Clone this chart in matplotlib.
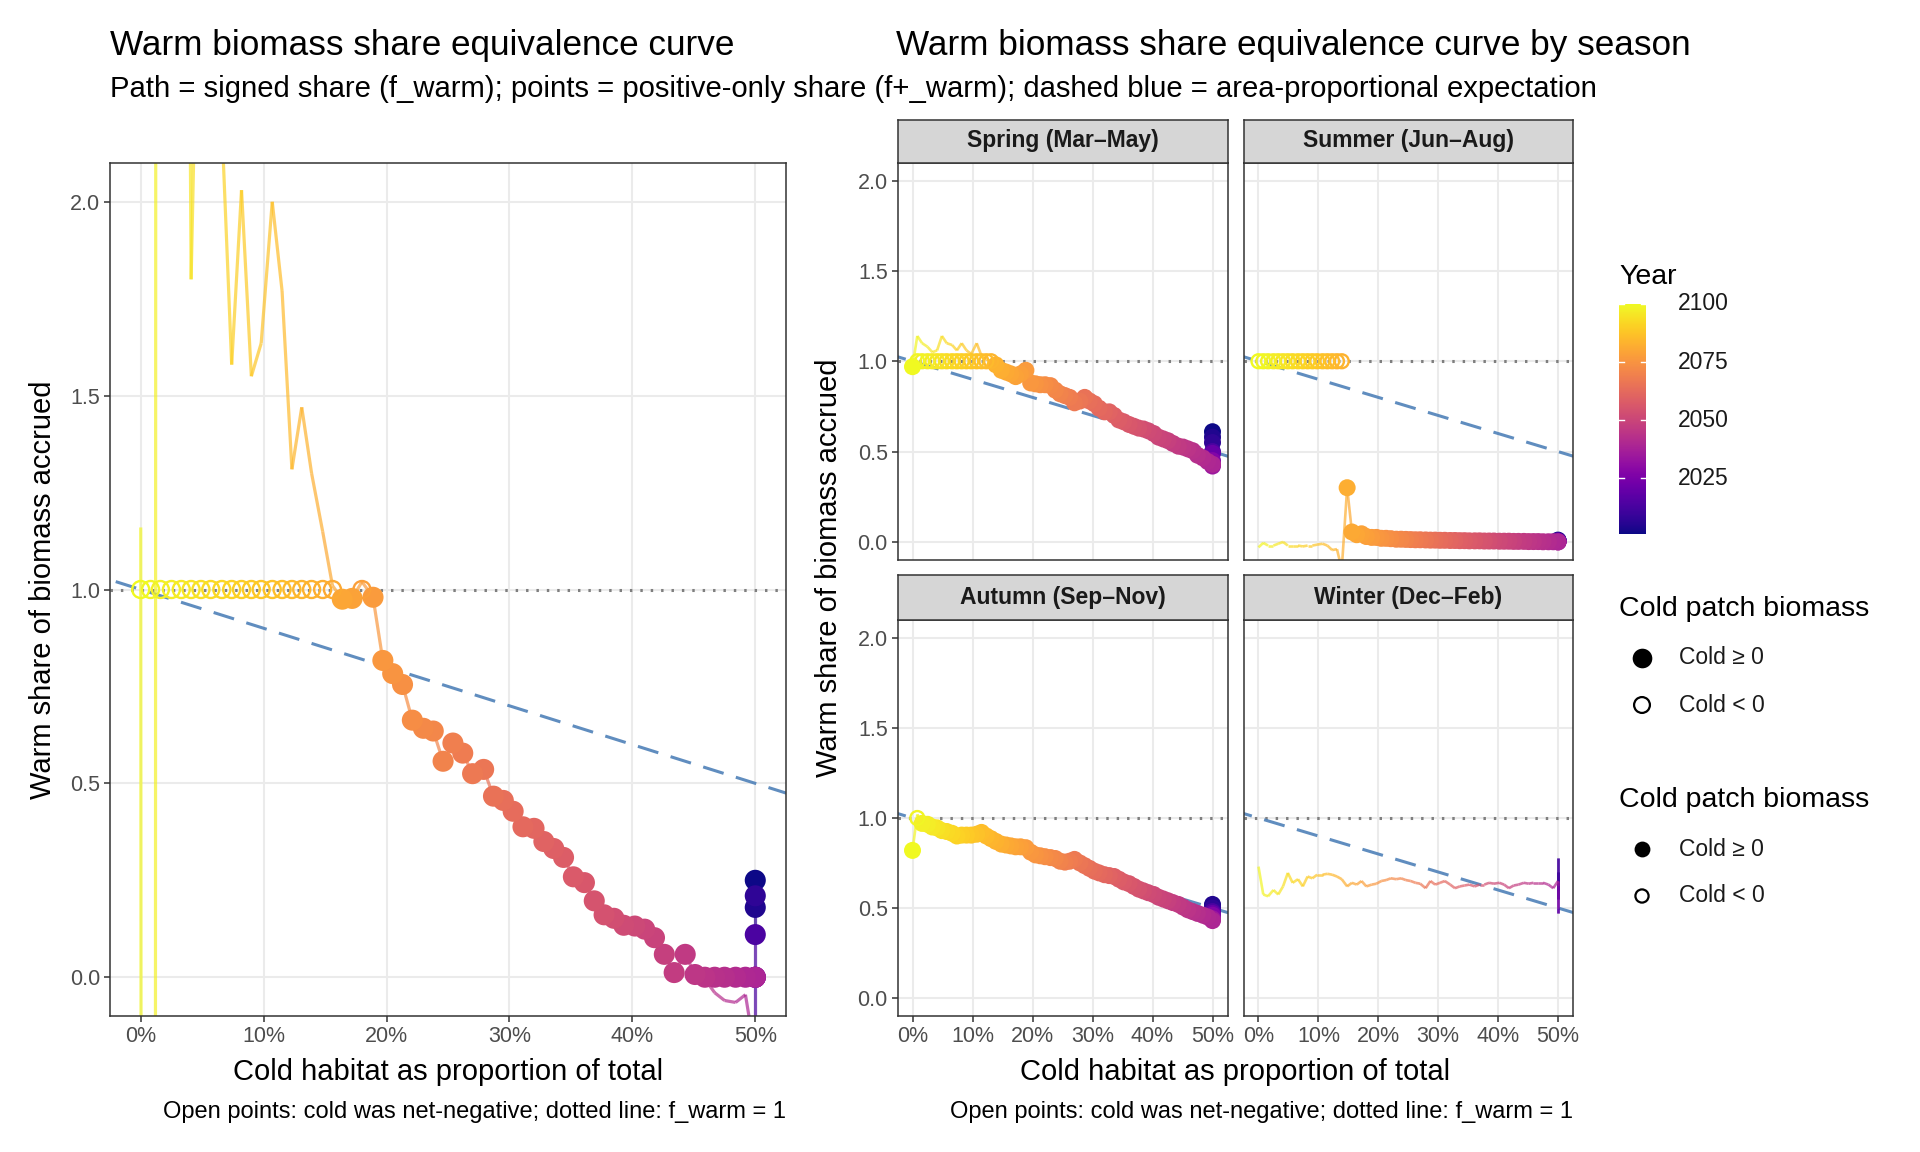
import numpy as np
import matplotlib.pyplot as plt
from matplotlib.collections import LineCollection
from matplotlib.colors import Normalize

plt.rcParams['font.family'] = ['Liberation Sans', 'DejaVu Sans']

# cold habitat share (%) for years 2100 down to 2039, then the early years sit at 50%
cold_pct = [0.0, 0.8, 1.6, 2.5, 3.3, 4.1, 4.9, 5.7, 6.6, 7.4,
            8.2, 9.0, 9.8, 10.7, 11.5, 12.3, 13.1, 13.9, 14.8, 15.6,
            16.4, 17.2, 18.0, 18.9, 19.7, 20.5, 21.3, 22.1, 23.0, 23.8,
            24.6, 25.4, 26.2, 27.0, 27.9, 28.7, 29.5, 30.3, 31.1, 32.0,
            32.8, 33.6, 34.4, 35.2, 36.1, 36.9, 37.7, 38.5, 39.3, 40.2,
            41.0, 41.8, 42.6, 43.4, 44.3, 45.1, 45.9, 46.7, 47.5, 48.4,
            49.2, 50.0]
years_main = list(range(2100, 2038, -1))
early_years = [2034, 2027, 2020, 2013, 2007, 2004, 2001]
early_pct = [50.0] * len(early_years)

# signed warm share (path); open = years where cold biomass was negative
annual_signed = [1.16, -40.0, 40.0, 5.0, 6.0, 1.80, 3.0, 2.6, 2.2, 1.58,
                 2.03, 1.55, 1.635, 2.0, 1.77, 1.31, 1.47, 1.30, 1.15, 1.01,
                 0.975, 0.977, 1.02, 0.98, 0.817, 0.783, 0.755, 0.663, 0.642, 0.635,
                 0.557, 0.604, 0.578, 0.525, 0.536, 0.467, 0.456, 0.428, 0.388, 0.384,
                 0.350, 0.332, 0.309, 0.259, 0.244, 0.197, 0.161, 0.152, 0.134, 0.132,
                 0.124, 0.102, 0.059, 0.012, 0.059, 0.007, -0.005, -0.04, -0.06, -0.065,
                 -0.045, -0.2]
annual_early = [-0.6, -0.4, -0.3, 0.11, 0.21, 0.18, 0.25]
annual_open = list(range(0, 20)) + [22]

spring_signed = [0.97, 1.14, 1.10, 1.08, 1.05, 1.06, 1.14, 1.10, 1.09, 1.06,
                 1.10, 1.06, 1.04, 1.10, 1.03, 1.01, 1.00, 0.98, 0.95, 0.94,
                 0.93, 0.915, 0.93, 0.95, 0.88, 0.875, 0.87, 0.87, 0.865, 0.84,
                 0.82, 0.81, 0.80, 0.77, 0.78, 0.80, 0.78, 0.765, 0.74, 0.72,
                 0.72, 0.70, 0.675, 0.665, 0.65, 0.64, 0.63, 0.625, 0.615, 0.60,
                 0.58, 0.57, 0.56, 0.545, 0.53, 0.525, 0.515, 0.505, 0.48, 0.465,
                 0.445, 0.43]
spring_early = [0.42, 0.45, 0.49, 0.50, 0.55, 0.58, 0.61]
spring_open = list(range(1, 17))

summer_signed = [-0.03, -0.005, -0.02, -0.02, -0.01, 0.0, -0.02, -0.02, -0.02, -0.025,
                 -0.02, -0.02, -0.015, -0.01, -0.02, -0.045, -0.04, -0.15, 0.30, 0.055,
                 0.04, 0.045, 0.03, 0.025, 0.025, 0.02, 0.02, 0.018, 0.015, 0.015,
                 0.014, 0.013, 0.012, 0.012, 0.011, 0.010, 0.010, 0.009, 0.009, 0.008,
                 0.008, 0.007, 0.007, 0.006, 0.006, 0.006, 0.005, 0.005, 0.005, 0.004,
                 0.004, 0.004, 0.003, 0.003, 0.003, 0.002, 0.002, 0.002, 0.001, 0.001,
                 0.001, 0.0]
summer_early = [0.0, 0.002, 0.004, 0.005, 0.006, 0.008, 0.01]
summer_open = list(range(0, 18))

autumn_signed = [0.82, 1.02, 0.97, 0.965, 0.95, 0.945, 0.93, 0.925, 0.915, 0.90,
                 0.905, 0.905, 0.905, 0.91, 0.92, 0.90, 0.885, 0.87, 0.855, 0.85,
                 0.845, 0.84, 0.84, 0.835, 0.81, 0.795, 0.79, 0.785, 0.78, 0.775,
                 0.76, 0.755, 0.76, 0.77, 0.75, 0.735, 0.72, 0.705, 0.695, 0.685,
                 0.68, 0.675, 0.66, 0.645, 0.635, 0.62, 0.605, 0.595, 0.585, 0.575,
                 0.56, 0.55, 0.54, 0.53, 0.52, 0.505, 0.49, 0.48, 0.47, 0.46,
                 0.45, 0.43]
autumn_early = [0.44, 0.46, 0.47, 0.48, 0.50, 0.52, 0.51]
autumn_open = [1]

winter_signed = [0.73, 0.575, 0.565, 0.60, 0.575, 0.62, 0.695, 0.64, 0.66, 0.62,
                 0.675, 0.665, 0.685, 0.685, 0.69, 0.685, 0.675, 0.66, 0.62, 0.64,
                 0.63, 0.65, 0.62, 0.63, 0.635, 0.65, 0.655, 0.665, 0.66, 0.665,
                 0.655, 0.65, 0.64, 0.635, 0.61, 0.65, 0.63, 0.64, 0.65, 0.63,
                 0.61, 0.62, 0.625, 0.63, 0.62, 0.63, 0.63, 0.64, 0.635, 0.64,
                 0.63, 0.61, 0.625, 0.63, 0.64, 0.635, 0.64, 0.64, 0.64, 0.63,
                 0.61, 0.65]
winter_early = [0.62, 0.50, 0.47, 0.78, 0.55, 0.70, 0.60]
winter_open = None  # no points drawn for winter

season_names = ['Spring (Mar–May)', 'Summer (Jun–Aug)', 'Autumn (Sep–Nov)', 'Winter (Dec–Feb)']

cmap = plt.get_cmap('plasma')
norm = Normalize(2001, 2100)
W, H = 1920, 1152
TICK = 15.5
SMALL = 16.5
AXT = 21


def draw_curve(ax, signed, early, open_idx, pt_big, pt_open, lw):
    x = np.array(cold_pct + early_pct)
    yr = np.array(years_main + early_years)
    y = np.array(signed + early, dtype=float)
    n = len(cold_pct)
    order = np.argsort(yr)
    x, yr, y = x[order], yr[order], y[order]

    # reference lines
    ax.axhline(1.0, color='#7f7f7f', lw=2.2, ls=(0, (0.8, 2.6)), zorder=1)
    ax.plot([-10, 60], [1.1, 0.4], color='#4f81b8', lw=2.2, ls=(0, (7, 4.2)),
            alpha=0.9, zorder=1)

    seg = np.stack([np.column_stack([x[:-1], y[:-1]]),
                    np.column_stack([x[1:], y[1:]])], axis=1)
    lc = LineCollection(seg, colors=cmap(norm(yr[:-1])), linewidths=lw, alpha=0.7,
                        zorder=2, capstyle='butt')
    ax.add_collection(lc)

    if open_idx is None:
        return
    is_open = np.zeros(n + len(early), dtype=bool)
    is_open[open_idx] = True
    is_open = is_open[order]
    pos = np.where(is_open, 1.0, np.clip(y, 0, None))
    cols = cmap(norm(yr))
    face = cols.copy()
    face[is_open, 3] = 0.0
    sizes = np.where(is_open, pt_open, pt_big)
    lws = np.where(is_open, 1.7, 0.0)
    ax.scatter(x, pos, s=sizes, facecolors=face, edgecolors=cols, linewidths=lws, zorder=3)


def style_axes(ax, show_x=True, show_y=True):
    ax.set_xlim(-2.5, 52.5)
    ax.set_ylim(-0.1, 2.1)
    ax.set_xticks([0, 10, 20, 30, 40, 50])
    ax.set_yticks([0, 0.5, 1.0, 1.5, 2.0])
    ax.grid(True, color='#ebebeb', lw=1.5, zorder=0)
    ax.set_axisbelow(True)
    for s in ax.spines.values():
        s.set_color('#333333')
        s.set_linewidth(1.1)
    ax.tick_params(colors='#333333', length=4, width=1.1, labelcolor='#4d4d4d',
                   labelsize=TICK, pad=3)
    if show_x:
        ax.set_xticklabels(['0%', '10%', '20%', '30%', '40%', '50%'])
    else:
        ax.tick_params(axis='x', length=0, labelbottom=False)
    if show_y:
        ax.set_yticklabels(['0.0', '0.5', '1.0', '1.5', '2.0'])
    else:
        ax.tick_params(axis='y', length=0, labelleft=False)


def fig_rect(x0, y0, x1, y1):
    return [x0 / W, 1 - y1 / H, (x1 - x0) / W, (y1 - y0) / H]


fig = plt.figure(figsize=(19.2, 11.52), dpi=100)

# left: annual curve
ax = fig.add_axes(fig_rect(110, 163, 786, 1016))
style_axes(ax)
draw_curve(ax, annual_signed, annual_early, annual_open, 230, 150, 2.3)

# right: seasonal facets
season_data = [(spring_signed, spring_early, spring_open),
               (summer_signed, summer_early, summer_open),
               (autumn_signed, autumn_early, autumn_open),
               (winter_signed, winter_early, winter_open)]
col_x = [(897.5, 1227.5), (1243.5, 1573)]
row_y = [(119.5, 162.5, 560), (575, 620, 1016)]
for i, (name, (sig, early, op)) in enumerate(zip(season_names, season_data)):
    r, c = divmod(i, 2)
    x0, x1 = col_x[c]
    s0, p0, p1 = row_y[r]
    fax = fig.add_axes(fig_rect(x0, p0, x1, p1))
    style_axes(fax, show_x=(r == 1), show_y=(c == 0))
    draw_curve(fax, sig, early, op, 150, 100, 1.9)
    sax = fig.add_axes(fig_rect(x0, s0, x1, p0))
    sax.set_facecolor('#d6d6d6')
    sax.set_xticks([])
    sax.set_yticks([])
    for s in sax.spines.values():
        s.set_color('#333333')
        s.set_linewidth(1.1)
    sax.text(0.5, 0.5, name, ha='center', va='center', fontsize=SMALL,
             fontweight='bold', color='#1a1a1a', transform=sax.transAxes)

# overlay in pixel coordinates for titles, labels and legends
ov = fig.add_axes([0, 0, 1, 1])
ov.set_xlim(0, W)
ov.set_ylim(H, 0)
ov.axis('off')
ov.patch.set_alpha(0)

ov.text(110, 46, 'Warm biomass share equivalence curve', fontsize=25.3, va='center', ha='left')
ov.text(896, 46, 'Warm biomass share equivalence curve by season', fontsize=25.3,
        va='center', ha='left')
ov.text(110, 89, 'Path = signed share (f_warm); points = positive-only share (f+_warm); '
        'dashed blue = area-proportional expectation', fontsize=21.1, va='center', ha='left')

ov.text(448, 1072, 'Cold habitat as proportion of total', fontsize=AXT, ha='center', va='center')
ov.text(1235, 1072, 'Cold habitat as proportion of total', fontsize=AXT, ha='center', va='center')
ov.text(43, 590, 'Warm share of biomass accrued', fontsize=AXT, ha='center', va='center',
        rotation=90)
ov.text(829, 568, 'Warm share of biomass accrued', fontsize=AXT, ha='center', va='center',
        rotation=90)
cap = 'Open points: cold was net-negative; dotted line: f_warm = 1'
ov.text(786, 1112, cap, fontsize=17, ha='right', va='center')
ov.text(1573, 1112, cap, fontsize=17, ha='right', va='center')

# colourbar legend
ov.text(1619, 277, 'Year', fontsize=20.5, ha='left', va='center')
cax = fig.add_axes(fig_rect(1619, 304, 1646, 534))
grad = np.linspace(2001, 2100, 300).reshape(-1, 1)
cax.imshow(grad, cmap=cmap, norm=norm, aspect='auto', origin='lower',
           extent=[0, 1, 2001, 2100])
cax.set_xlim(0, 1)
cax.set_ylim(2001, 2100)
cax.axis('off')
for t in [2025, 2050, 2075, 2100]:
    cax.plot([0, 0.2], [t, t], color='white', lw=1.0)
    cax.plot([0.8, 1], [t, t], color='white', lw=1.0)
    yp = 534 - (t - 2001) / 99 * (534 - 304)
    ov.text(1678, yp, str(t), fontsize=SMALL, ha='left', va='center', color='#1a1a1a')

# shape legends (one per panel)
for ty, (f_s, o_s) in [(609, (200, 130)), (800, (130, 90))]:
    ov.text(1619, ty, 'Cold patch biomass', fontsize=20.5, ha='left', va='center')
    ov.scatter([1642], [ty + 49], s=f_s, color='black', linewidths=0)
    ov.scatter([1642], [ty + 96], s=o_s, facecolors='none', edgecolors='black', linewidths=1.6)
    ov.text(1679, ty + 49, 'Cold ≥ 0', fontsize=SMALL, ha='left', va='center', color='#1a1a1a')
    ov.text(1679, ty + 96, 'Cold < 0', fontsize=SMALL, ha='left', va='center', color='#1a1a1a')

fig.savefig('out.png', dpi=100, facecolor='white')
